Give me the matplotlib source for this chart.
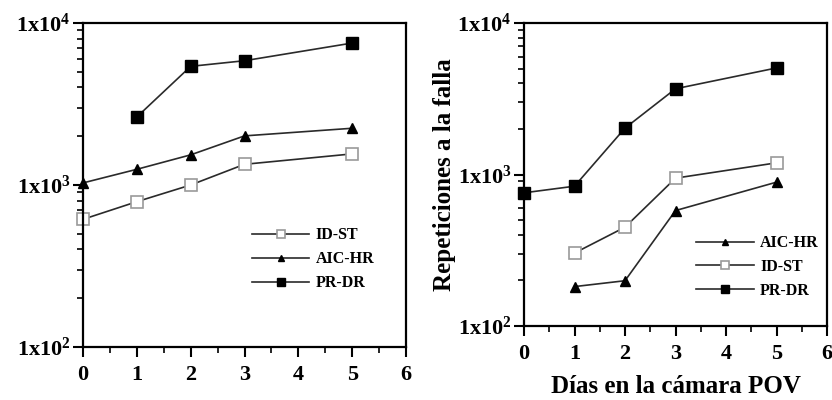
import matplotlib
matplotlib.use("Agg")
import numpy as np
import matplotlib.pyplot as plt
from matplotlib.ticker import FixedLocator, LogLocator, NullFormatter, FuncFormatter, MultipleLocator
from matplotlib.lines import Line2D

plt.rcParams['font.family'] = ['Liberation Serif', 'DejaVu Serif']
plt.rcParams['font.weight'] = 'bold'
plt.rcParams['mathtext.fontset'] = 'custom'
plt.rcParams['mathtext.rm'] = 'Liberation Serif:bold'
plt.rcParams['mathtext.bf'] = 'Liberation Serif:bold'
plt.rcParams['mathtext.it'] = 'Liberation Serif:bold'

# Left panel data
left_days = [0, 1, 2, 3, 5]
left_idst = [614, 789, 1000, 1342, 1556]
left_aichr = [1030, 1250, 1535, 2010, 2240]
left_prdr_days = [1, 2, 3, 5]
left_prdr = [2630, 5400, 5850, 7520]

# Right panel data
right_prdr_days = [0, 1, 2, 3, 5]
right_prdr = [757, 837, 2024, 3680, 5050]
right_days = [1, 2, 3, 5]
right_idst = [303, 449, 946, 1194]
right_aichr = [182, 199, 578, 890]

y_ticks = [100, 1000, 10000]
x_ticks = [0, 1, 2, 3, 4, 5, 6]

LINE = '#2a2a2a'


def sci_label(v, pos):
    exp = int(round(np.log10(v)))
    return r'$\mathrm{1x10^{%d}}$' % exp


fig = plt.figure(figsize=(8.32, 4.0), dpi=100)
ax1 = fig.add_axes([83 / 832, 53 / 400, 323 / 832, 324 / 400])
ax2 = fig.add_axes([524 / 832, 74 / 400, 303 / 832, 303 / 400])


def style(ax):
    ax.set_yscale('log')
    ax.set_xlim(0, 6)
    ax.set_ylim(100, 10000)
    ax.xaxis.set_major_locator(FixedLocator(x_ticks))
    ax.xaxis.set_minor_locator(MultipleLocator(0.5))
    ax.yaxis.set_major_locator(FixedLocator(y_ticks))
    ax.yaxis.set_minor_locator(LogLocator(base=10, subs=range(2, 10)))
    ax.yaxis.set_major_formatter(FuncFormatter(sci_label))
    ax.yaxis.set_minor_formatter(NullFormatter())
    ax.tick_params(which='major', direction='out', length=7, width=1.5,
                   labelsize=16, top=False, right=False)
    ax.tick_params(axis='x', which='major', pad=6)
    ax.tick_params(axis='y', which='major', pad=2)
    ax.tick_params(which='minor', direction='out', length=4, width=1.2,
                   top=False, right=False)
    for s in ax.spines.values():
        s.set_linewidth(1.6)


style(ax1)
style(ax2)

sq_open = dict(marker='s', markersize=9, markerfacecolor='white',
               markeredgecolor='#9a9a9a', markeredgewidth=1.2)
sq_fill = dict(marker='s', markersize=9, markerfacecolor='black',
               markeredgecolor='black')
tri = dict(marker='^', markersize=7, markerfacecolor='black',
           markeredgecolor='black')

ax1.plot(left_days, left_idst, color=LINE, lw=1.2, clip_on=False, **sq_open)
ax1.plot(left_days, left_aichr, color=LINE, lw=1.2, clip_on=False, **tri)
ax1.plot(left_prdr_days, left_prdr, color=LINE, lw=1.2, clip_on=False, **sq_fill)

ax2.plot(right_prdr_days, right_prdr, color=LINE, lw=1.2, clip_on=False, **sq_fill)
ax2.plot(right_days, right_idst, color=LINE, lw=1.2, clip_on=False, **sq_open)
ax2.plot(right_days, right_aichr, color=LINE, lw=1.2, clip_on=False, **tri)


def handle(style_kw):
    kw = dict(style_kw)
    kw['markersize'] = kw['markersize'] * 0.7
    return Line2D([], [], color=LINE, lw=1.2, **kw)


h_idst = handle(sq_open)
h_aic = handle(tri)
h_pr = handle(sq_fill)

leg_kw = dict(frameon=False, fontsize=11.5, handlelength=3.6, handletextpad=0.4,
              labelspacing=0.5, borderpad=0, borderaxespad=0)
ax1.legend([h_idst, h_aic, h_pr], ['ID-ST', 'AIC-HR', 'PR-DR'],
           loc='upper left', bbox_to_anchor=(0.523, 0.37), **leg_kw)
ax2.legend([h_aic, h_idst, h_pr], ['AIC-HR', 'ID-ST', 'PR-DR'],
           loc='upper left', bbox_to_anchor=(0.568, 0.30), **leg_kw)

ax2.set_ylabel('Repeticiones a la falla', fontsize=18, fontweight='bold', labelpad=1)
ax2.set_xlabel('Días en la cámara POV', fontsize=18, fontweight='bold', labelpad=8)

fig.savefig('out.png', dpi=100)
